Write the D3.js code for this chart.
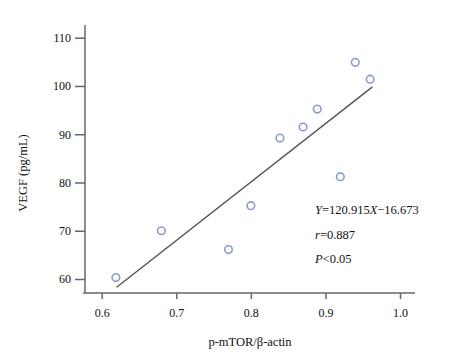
<!DOCTYPE html>
<html><head><meta charset="utf-8">
<script src="https://cdn.jsdelivr.net/npm/d3@7"></script>
<style>body{margin:0;background:#fff}svg{display:block}text{font-family:"Liberation Serif","Times New Roman",serif;fill:#111}</style>
</head><body><svg id="c" width="462" height="359"></svg>
<script>
const xVals = [0.619, 0.680, 0.770, 0.800, 0.839, 0.870, 0.889, 0.920, 0.940, 0.960];
const yVals = [60.3, 70.0, 66.1, 75.2, 89.2, 91.5, 95.2, 81.2, 104.9, 101.4];
const xTicks = [0.6, 0.7, 0.8, 0.9, 1.0];
const yTicks = [60, 70, 80, 90, 100, 110];
const fitLine = [[0.62, 58.3], [0.963, 99.8]];
const annotations = [["Y", "=120.915", "X", "\u221216.673"], ["r", "=0.887"], ["P", "<0.05"]];

const svg = d3.select("#c");
const x = d3.scaleLinear().domain([0.6, 1.0]).range([101.7, 400]);
const y = d3.scaleLinear().domain([60, 110]).range([279, 37.7]);
const left = 85, bottom = 293;
const axisCol = "#666";

const xa = svg.append("g").attr("transform", `translate(0,${bottom})`)
  .call(d3.axisBottom(x).tickValues(xTicks).tickFormat(d3.format(".1f")).tickSize(6).tickPadding(9).tickSizeOuter(0));
xa.select(".domain").remove();
xa.append("line").attr("x1", 83).attr("x2", 415).attr("stroke", axisCol).attr("stroke-width", 1.5);
const ya = svg.append("g").attr("transform", `translate(${left},0)`)
  .call(d3.axisLeft(y).tickValues(yTicks).tickSize(10).tickPadding(4).tickSizeOuter(0));
ya.select(".domain").remove();
ya.append("line").attr("y1", 25).attr("y2", bottom).attr("stroke", axisCol).attr("stroke-width", 1.5);
svg.selectAll(".tick line").attr("stroke", axisCol).attr("stroke-width", 1.5);
svg.selectAll(".tick text").attr("font-size", 12).style("font-family", '"Liberation Serif",serif').attr("fill", "#111");

svg.append("line")
  .attr("x1", x(fitLine[0][0])).attr("y1", y(fitLine[0][1]))
  .attr("x2", x(fitLine[1][0])).attr("y2", y(fitLine[1][1]))
  .attr("stroke", "#555").attr("stroke-width", 1.4);

svg.selectAll("circle.p").data(xVals).enter().append("circle")
  .attr("cx", d => x(d)).attr("cy", (d, i) => y(yVals[i])).attr("r", 3.8)
  .attr("fill", "none").attr("stroke", "#8d9cc8").attr("stroke-width", 1.6);

svg.append("text").attr("x", 250).attr("y", 346).attr("text-anchor", "middle").attr("font-size", 12.5).text("p-mTOR/\u03b2-actin");
svg.append("text").attr("transform", "translate(27,173) rotate(-90)").attr("text-anchor", "middle").attr("font-size", 12.5).text("VEGF (pg/mL)");

const ann = svg.append("g");
annotations.forEach((parts, i) => {
  const t = ann.append("text").attr("x", 315).attr("y", 214 + i * 24.5).attr("font-size", 12.5);
  parts.forEach((p, j) => t.append("tspan").attr("font-style", j % 2 === 0 ? "italic" : "normal").text(p));
});
</script></body></html>
